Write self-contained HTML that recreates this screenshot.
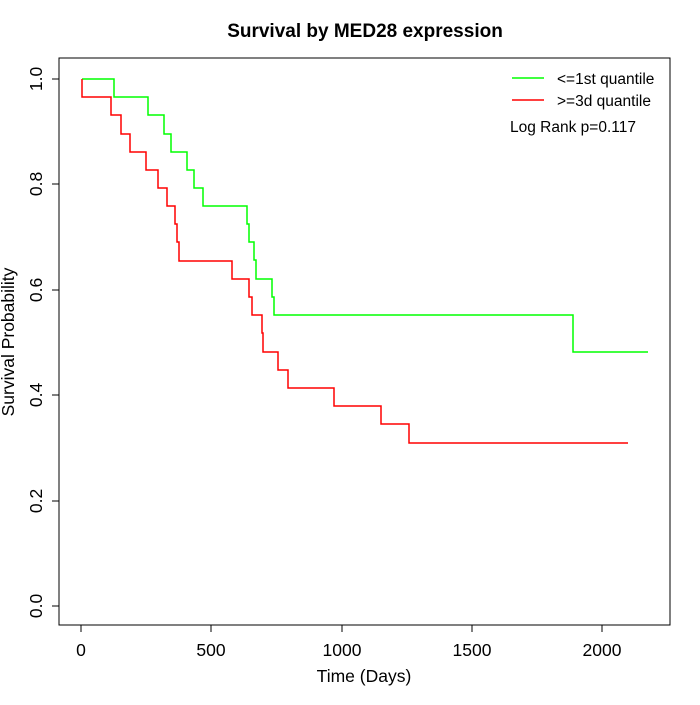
<!DOCTYPE html><html><head><style>body{margin:0;background:#fff}</style></head><body>
<svg width="700" height="700" xmlns="http://www.w3.org/2000/svg" font-family="Liberation Sans, sans-serif">
<rect width="700" height="700" fill="#fff"/>
<text x="365" y="37" font-size="19" font-weight="bold" text-anchor="middle">Survival by MED28 expression</text>
<rect x="59" y="58" width="611" height="567" fill="none" stroke="#000"/>
<g stroke="#000" fill="none">
<line x1="81" y1="625" x2="602" y2="625"/>
<line x1="81" y1="625" x2="81" y2="632"/><line x1="211" y1="625" x2="211" y2="632"/><line x1="342" y1="625" x2="342" y2="632"/><line x1="472" y1="625" x2="472" y2="632"/><line x1="602" y1="625" x2="602" y2="632"/>
<line x1="59" y1="79" x2="59" y2="606"/>
<line x1="59" y1="79" x2="52" y2="79"/><line x1="59" y1="184" x2="52" y2="184"/><line x1="59" y1="290" x2="52" y2="290"/><line x1="59" y1="395" x2="52" y2="395"/><line x1="59" y1="501" x2="52" y2="501"/><line x1="59" y1="606" x2="52" y2="606"/>
</g>
<g font-size="17.5" text-anchor="middle">
<text x="81" y="656">0</text><text x="211" y="656">500</text><text x="342" y="656">1000</text><text x="472" y="656">1500</text><text x="602" y="656">2000</text>
<text x="364" y="682">Time (Days)</text>
<g transform="translate(42,0)">
<text transform="translate(0,79) rotate(-90)">1.0</text><text transform="translate(0,184) rotate(-90)">0.8</text><text transform="translate(0,290) rotate(-90)">0.6</text><text transform="translate(0,395) rotate(-90)">0.4</text><text transform="translate(0,501) rotate(-90)">0.2</text><text transform="translate(0,606) rotate(-90)">0.0</text>
</g>
<text transform="translate(14,342) rotate(-90)">Survival Probability</text>
</g>
<polyline fill="none" stroke="#00ff00" stroke-width="1.5" points="82,79 114,79 114,97 148,97 148,115 164,115 164,134 171,134 171,152 187,152 187,170 194,170 194,188 203,188 203,206 247,206 247,224 249,224 249,242 254,242 254,260 256,260 256,279 272,279 272,297 274,297 274,315 573,315 573,352 648,352"/>
<polyline fill="none" stroke="#ff0000" stroke-width="1.5" points="82,79 82,97 111,97 111,115 121,115 121,134 130,134 130,152 146,152 146,170 158,170 158,188 167,188 167,206 175,206 175,224 177,224 177,242 179,242 179,261 232,261 232,279 249,279 249,297 252,297 252,315 262,315 262,333 263,333 263,352 278,352 278,370 288,370 288,388 334,388 334,406 381,406 381,424 409,424 409,443 628,443"/>
<line x1="512" y1="78" x2="544" y2="78" stroke="#00ff00" stroke-width="1.5"/>
<line x1="512" y1="100" x2="544" y2="100" stroke="#ff0000" stroke-width="1.5"/>
<g font-size="15.5"><text x="557" y="84">&lt;=1st quantile</text><text x="557" y="106">&gt;=3d quantile</text><text x="510" y="132">Log Rank p=0.117</text></g>
</svg></body></html>
